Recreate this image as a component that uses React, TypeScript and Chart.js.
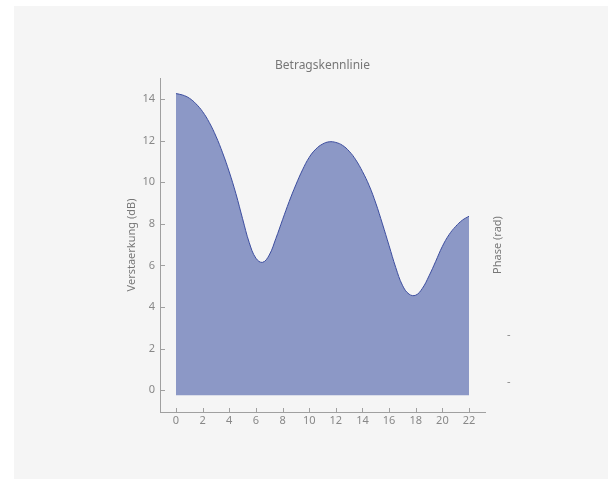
import React, { useEffect, useRef } from "react";
import { Chart, registerables } from "chart.js";

Chart.register(...registerables);

// Frequency (x) and magnitude in dB (y)
const freq = [
  0, 0.5, 1, 1.5, 2, 2.5, 3, 3.5, 4, 4.5, 5, 5.5, 6, 6.5, 7, 7.5, 8, 8.5, 9, 9.5, 10, 10.5,
  11, 11.5, 12, 12.5, 13, 13.5, 14, 14.5, 15, 15.5, 16, 16.5, 17, 17.5, 18, 18.5, 19, 19.5,
  20, 20.5, 21, 21.5, 22,
];
const gainDb = [
  14.27, 14.2, 14.05, 13.78, 13.4, 12.88, 12.22, 11.42, 10.5, 9.45, 8.25, 7.1, 6.35, 6.15,
  6.5, 7.3, 8.2, 9.08, 9.88, 10.6, 11.2, 11.6, 11.84, 11.95, 11.92, 11.78, 11.5, 11.08,
  10.52, 9.85, 9.0, 8.0, 6.95, 5.9, 5.05, 4.62, 4.57, 4.9, 5.5, 6.2, 6.92, 7.48, 7.88, 8.18,
  8.37,
];
const xTicks = [0, 2, 4, 6, 8, 10, 12, 14, 16, 18, 20, 22];
const yTicks = [0, 2, 4, 6, 8, 10, 12, 14];
const phaseTicks = [0.38, 2.64];
const phaseTickLabels = ["-", "-"];

const chartTitle = "Betragskennlinie";
const xTitle = "Frequenz (rad/s)";
const yTitle = "Verstaerkung (dB)";
const y2Title = "Phase (rad)";

const FONT = "'Noto Sans', sans-serif";
const AXIS_COLOR = "#a0a0a0";
const TICK_COLOR = "#888888";
const TITLE_COLOR = "#777777";

const decorations = {
  id: "decorations",
  afterDraw(chart: any) {
    const { ctx, chartArea, scales } = chart;
    ctx.save();
    ctx.strokeStyle = AXIS_COLOR;
    ctx.lineWidth = 1;
    ctx.beginPath();
    scales.x.ticks.forEach((t: any) => {
      const px = Math.round(scales.x.getPixelForValue(t.value)) + 0.5;
      ctx.moveTo(px, chartArea.bottom);
      ctx.lineTo(px, chartArea.bottom - 4);
    });
    scales.y.ticks.forEach((t: any) => {
      const py = Math.round(scales.y.getPixelForValue(t.value)) + 0.5;
      ctx.moveTo(chartArea.left, py);
      ctx.lineTo(chartArea.left + 5, py);
    });
    ctx.stroke();
    // chart title, centred over the plot area
    ctx.fillStyle = TITLE_COLOR;
    ctx.textAlign = "center";
    ctx.textBaseline = "middle";
    ctx.font = `12px ${FONT}`;
    ctx.fillText(chartTitle, (chartArea.left + chartArea.right) / 2, chartArea.top - 12);
    // right-hand axis title
    ctx.font = `11px ${FONT}`;
    ctx.translate(chartArea.right + 13, (chartArea.top + chartArea.bottom) / 2);
    ctx.rotate(-Math.PI / 2);
    ctx.fillText(y2Title, 0, 0);
    ctx.restore();
  },
};

export default function App() {
  const ref = useRef<HTMLCanvasElement | null>(null);

  useEffect(() => {
    if (!ref.current) return;
    const chart = new Chart(ref.current, {
      type: "line",
      data: {
        datasets: [
          {
            data: freq.map((f, i) => ({ x: f, y: gainDb[i] })),
            borderColor: "#3c4d9e",
            borderWidth: 1,
            backgroundColor: "rgb(140,152,198)",
            fill: { value: -0.25 },
            pointRadius: 0,
            tension: 0.4,
          },
        ],
      },
      plugins: [decorations],
      options: {
        responsive: false,
        animation: false,
        layout: { padding: { top: 72, left: 0, right: 0, bottom: 0 } },
        plugins: {
          legend: { display: false },
          tooltip: { enabled: false },
          title: { display: false },
        },
        scales: {
          x: {
            type: "linear",
            min: -1.2,
            max: 23.2,
            afterBuildTicks: (s: any) => {
              s.ticks = xTicks.map((v) => ({ value: v }));
            },
            afterFit: (s: any) => {
              s.height = 64;
            },
            grid: { display: false, drawTicks: false },
            border: { display: true, color: AXIS_COLOR },
            ticks: {
              color: TICK_COLOR,
              font: { family: FONT, size: 11 },
              padding: 2,
              maxRotation: 0,
              autoSkip: false,
            },
            title: {
              display: true,
              text: xTitle,
              color: TITLE_COLOR,
              font: { family: FONT, size: 11 },
              padding: { top: 0, bottom: 28.4 },
            },
          },
          y: {
            type: "linear",
            position: "left",
            min: -1.05,
            max: 15.02,
            afterBuildTicks: (s: any) => {
              s.ticks = yTicks.map((v) => ({ value: v }));
            },
            afterFit: (s: any) => {
              s.width = 146;
            },
            grid: { display: false, drawTicks: false },
            border: { display: true, color: AXIS_COLOR },
            ticks: {
              color: TICK_COLOR,
              font: { family: FONT, size: 11 },
              padding: 5,
              autoSkip: false,
            },
            title: {
              display: true,
              text: yTitle,
              color: TITLE_COLOR,
              font: { family: FONT, size: 11 },
              padding: { top: 111, bottom: 0 },
            },
          },
          y2: {
            type: "linear",
            position: "right",
            min: -1.05,
            max: 15.02,
            afterBuildTicks: (s: any) => {
              s.ticks = phaseTicks.map((v) => ({ value: v }));
            },
            afterFit: (s: any) => {
              s.width = 123;
            },
            grid: { display: false, drawTicks: false },
            border: { display: false },
            ticks: {
              color: TICK_COLOR,
              font: { family: FONT, size: 11 },
              padding: 22,
              autoSkip: false,
              callback: (_v: any, i: number) => phaseTickLabels[i],
            },
          },
        },
      },
    } as any);
    return () => chart.destroy();
  }, []);

  return (
    <div
      style={{
        position: "absolute",
        left: 14,
        top: 6,
        width: 594,
        height: 473,
        background: "#f5f5f5",
      }}
    >
      <div style={{ width: 594, height: 429, overflow: "hidden" }}>
        <canvas ref={ref} width={594} height={470} style={{ display: "block" }} />
      </div>
    </div>
  );
}
